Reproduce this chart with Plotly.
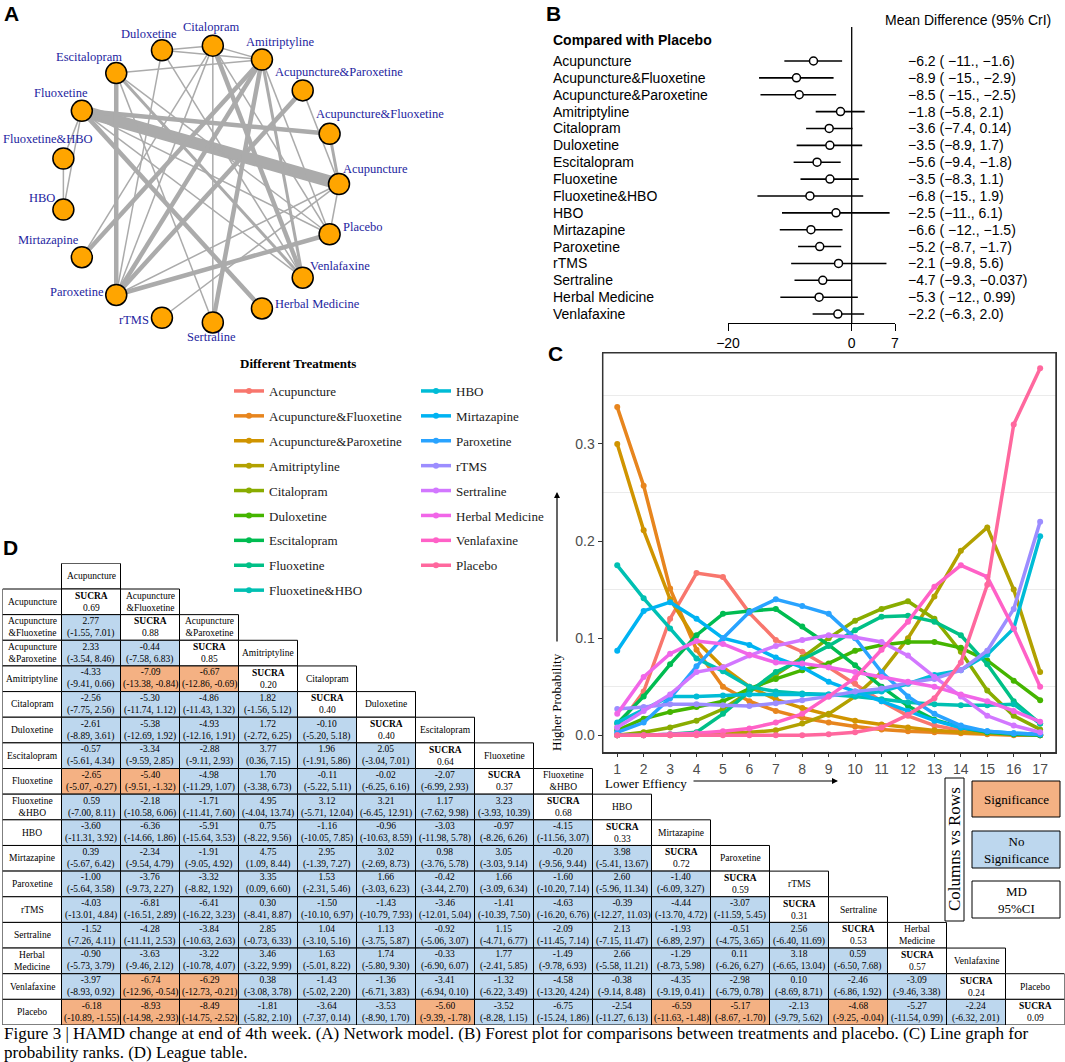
import math
import plotly.graph_objects as go

W, H = 1065, 1062
SERIF = "Liberation Serif, Times New Roman, serif"
SANS = "Liberation Sans, Arial, sans-serif"


def fx(p):
    return p / W


def fy(p):
    return 1 - p / H


# ---------------------------------------------------------------- data
TREATMENTS = ["Acupuncture", "Acupuncture&Fluoxetine", "Acupuncture&Paroxetine",
              "Amitriptyline", "Citalopram", "Duloxetine", "Escitalopram",
              "Fluoxetine", "Fluoxetine&HBO", "HBO", "Mirtazapine", "Paroxetine",
              "rTMS", "Sertraline", "Herbal Medicine", "Venlafaxine", "Placebo"]

TABLE_LABELS = ["Acupuncture", "Acupuncture<br>&Fluoxetine", "Acupuncture<br>&Paroxetine",
                "Amitriptyline", "Citalopram", "Duloxetine", "Escitalopram",
                "Fluoxetine", "Fluoxetine<br>&HBO", "HBO", "Mirtazapine", "Paroxetine",
                "rTMS", "Sertraline", "Herbal<br>Medicine", "Venlafaxine", "Placebo"]

RANKS = list(range(1, 18))

RANK_PROB = {
    "Acupuncture":            [0.008, 0.045, 0.12, 0.167, 0.163, 0.126, 0.098, 0.086, 0.07, 0.053, 0.035, 0.02, 0.01, 0.005, 0.002, 0.001, 0.0],
    "Acupuncture&Fluoxetine": [0.338, 0.257, 0.151, 0.088, 0.05, 0.035, 0.025, 0.018, 0.013, 0.009, 0.006, 0.004, 0.003, 0.002, 0.001, 0.0, 0.0],
    "Acupuncture&Paroxetine": [0.300, 0.211, 0.14, 0.097, 0.07, 0.05, 0.037, 0.028, 0.021, 0.015, 0.011, 0.008, 0.005, 0.003, 0.002, 0.001, 0.0],
    "Amitriptyline":          [0.0, 0.0, 0.0, 0.001, 0.002, 0.003, 0.005, 0.012, 0.022, 0.04, 0.065, 0.1, 0.143, 0.19, 0.214, 0.15, 0.065],
    "Citalopram":             [0.0, 0.003, 0.008, 0.015, 0.027, 0.045, 0.062, 0.08, 0.1, 0.118, 0.13, 0.138, 0.12, 0.086, 0.046, 0.02, 0.006],
    "Duloxetine":             [0.005, 0.017, 0.024, 0.029, 0.035, 0.048, 0.058, 0.067, 0.074, 0.087, 0.093, 0.096, 0.096, 0.09, 0.077, 0.056, 0.036],
    "Escitalopram":           [0.012, 0.04, 0.073, 0.103, 0.125, 0.128, 0.13, 0.112, 0.093, 0.072, 0.05, 0.03, 0.016, 0.008, 0.003, 0.001, 0.0],
    "Fluoxetine":             [0.0, 0.0, 0.001, 0.003, 0.022, 0.045, 0.065, 0.078, 0.092, 0.108, 0.122, 0.123, 0.117, 0.103, 0.073, 0.035, 0.012],
    "Fluoxetine&HBO":         [0.175, 0.141, 0.110, 0.079, 0.066, 0.05, 0.045, 0.043, 0.042, 0.04, 0.037, 0.034, 0.032, 0.031, 0.031, 0.032, 0.012],
    "HBO":                    [0.013, 0.027, 0.040, 0.040, 0.041, 0.042, 0.042, 0.042, 0.042, 0.042, 0.045, 0.053, 0.062, 0.067, 0.083, 0.11, 0.205],
    "Mirtazapine":            [0.087, 0.128, 0.137, 0.12, 0.1, 0.093, 0.08, 0.07, 0.055, 0.045, 0.035, 0.025, 0.015, 0.008, 0.004, 0.002, 0.001],
    "Paroxetine":             [0.003, 0.013, 0.038, 0.071, 0.1, 0.127, 0.14, 0.133, 0.125, 0.1, 0.065, 0.04, 0.022, 0.01, 0.004, 0.002, 0.001],
    "rTMS":                   [0.027, 0.029, 0.032, 0.032, 0.031, 0.030, 0.033, 0.036, 0.04, 0.045, 0.048, 0.054, 0.058, 0.067, 0.087, 0.13, 0.22],
    "Sertraline":             [0.008, 0.025, 0.042, 0.065, 0.07, 0.082, 0.092, 0.098, 0.103, 0.101, 0.096, 0.082, 0.06, 0.04, 0.02, 0.01, 0.003],
    "Herbal Medicine":        [0.022, 0.06, 0.084, 0.097, 0.094, 0.083, 0.075, 0.074, 0.07, 0.065, 0.06, 0.055, 0.05, 0.042, 0.035, 0.025, 0.014],
    "Venlafaxine":            [0.0, 0.0, 0.001, 0.002, 0.004, 0.007, 0.013, 0.022, 0.04, 0.059, 0.088, 0.117, 0.153, 0.175, 0.163, 0.11, 0.05],
    "Placebo":                [0.0, 0.0, 0.0, 0.0, 0.0, 0.0, 0.0, 0.0, 0.001, 0.003, 0.008, 0.021, 0.038, 0.075, 0.155, 0.32, 0.378],
}

SUCRA = [0.69, 0.88, 0.85, 0.20, 0.40, 0.40, 0.64, 0.37, 0.68, 0.33, 0.72, 0.59, 0.31, 0.53, 0.57, 0.24, 0.09]

# league table: row treatment vs column treatment, (MD, lower, upper)
LEAGUE_ROWS = [
    [],
    [(2.77, -1.55, 7.01)],
    [(2.33, -3.54, 8.46), (-0.44, -7.58, 6.83)],
    [(-4.33, -9.41, 0.66), (-7.09, -13.38, -0.84), (-6.67, -12.86, -0.69)],
    [(-2.56, -7.75, 2.56), (-5.30, -11.74, 1.12), (-4.86, -11.43, 1.32), (1.82, -1.56, 5.12)],
    [(-2.61, -8.89, 3.61), (-5.38, -12.69, 1.92), (-4.93, -12.16, 1.91), (1.72, -2.72, 6.25), (-0.10, -5.20, 5.18)],
    [(-0.57, -5.61, 4.34), (-3.34, -9.59, 2.85), (-2.88, -9.11, 2.93), (3.77, 0.36, 7.15), (1.96, -1.91, 5.86),
     (2.05, -3.04, 7.01)],
    [(-2.65, -5.07, -0.27), (-5.40, -9.51, -1.32), (-4.98, -11.29, 1.07), (1.70, -3.38, 6.73), (-0.11, -5.22, 5.11),
     (-0.02, -6.25, 6.16), (-2.07, -6.99, 2.93)],
    [(0.59, -7.00, 8.11), (-2.18, -10.58, 6.06), (-1.71, -11.41, 7.60), (4.95, -4.04, 13.74), (3.12, -5.71, 12.04),
     (3.21, -6.45, 12.91), (1.17, -7.62, 9.98), (3.23, -3.93, 10.39)],
    [(-3.60, -11.31, 3.92), (-6.36, -14.66, 1.86), (-5.91, -15.64, 3.53), (0.75, -8.22, 9.56), (-1.16, -10.05, 7.85),
     (-0.96, -10.63, 8.59), (-3.03, -11.98, 5.78), (-0.97, -8.26, 6.26), (-4.15, -11.56, 3.07)],
    [(0.39, -5.67, 6.42), (-2.34, -9.54, 4.79), (-1.91, -9.05, 4.92), (4.75, 1.09, 8.44), (2.95, -1.39, 7.27),
     (3.02, -2.69, 8.73), (0.98, -3.76, 5.78), (3.05, -3.03, 9.14), (-0.20, -9.56, 9.44), (3.98, -5.41, 13.67)],
    [(-1.00, -5.64, 3.58), (-3.76, -9.73, 2.27), (-3.32, -8.82, 1.92), (3.35, 0.09, 6.60), (1.53, -2.31, 5.46),
     (1.66, -3.03, 6.23), (-0.42, -3.44, 2.70), (1.66, -3.09, 6.34), (-1.60, -10.20, 7.14), (2.60, -5.96, 11.34),
     (-1.40, -6.09, 3.27)],
    [(-4.03, -13.01, 4.84), (-6.81, -16.51, 2.89), (-6.41, -16.22, 3.23), (0.30, -8.41, 8.87), (-1.50, -10.10, 6.97),
     (-1.43, -10.79, 7.93), (-3.46, -12.01, 5.04), (-1.41, -10.39, 7.50), (-4.63, -16.20, 6.76), (-0.39, -12.27, 11.03),
     (-4.44, -13.70, 4.72), (-3.07, -11.59, 5.45)],
    [(-1.52, -7.26, 4.11), (-4.28, -11.11, 2.53), (-3.84, -10.63, 2.63), (2.85, -0.73, 6.33), (1.04, -3.10, 5.16),
     (1.13, -3.75, 5.87), (-0.92, -5.06, 3.07), (1.15, -4.71, 6.77), (-2.09, -11.45, 7.14), (2.13, -7.15, 11.47),
     (-1.93, -6.89, 2.97), (-0.51, -4.75, 3.65), (2.56, -6.40, 11.69)],
    [(-0.90, -5.73, 3.79), (-3.63, -9.46, 2.12), (-3.22, -10.78, 4.07), (3.46, -3.22, 9.99), (1.63, -5.01, 8.22),
     (1.74, -5.80, 9.30), (-0.33, -6.90, 6.07), (1.77, -2.41, 5.85), (-1.49, -9.78, 6.93), (2.66, -5.58, 11.21),
     (-1.29, -8.73, 5.98), (0.11, -6.26, 6.27), (3.18, -6.65, 13.04), (0.59, -6.50, 7.68)],
    [(-3.97, -8.93, 0.92), (-6.74, -12.96, -0.54), (-6.29, -12.73, -0.21), (0.38, -3.08, 3.78), (-1.43, -5.02, 2.20),
     (-1.36, -6.71, 3.83), (-3.41, -6.94, 0.10), (-1.32, -6.22, 3.49), (-4.58, -13.20, 4.24), (-0.38, -9.14, 8.48),
     (-4.35, -9.19, 0.41), (-2.98, -6.79, 0.78), (0.10, -8.69, 8.71), (-2.46, -6.86, 1.92), (-3.09, -9.46, 3.38)],
    [(-6.18, -10.89, -1.55), (-8.93, -14.98, -2.93), (-8.49, -14.75, -2.52), (-1.81, -5.82, 2.10), (-3.64, -7.37, 0.14),
     (-3.53, -8.90, 1.70), (-5.60, -9.39, -1.78), (-3.52, -8.28, 1.15), (-6.75, -15.24, 1.86), (-2.54, -11.27, 6.13),
     (-6.59, -11.63, -1.48), (-5.17, -8.67, -1.70), (-2.13, -9.79, 5.62), (-4.68, -9.25, -0.04), (-5.27, -11.54, 0.99),
     (-2.24, -6.32, 2.01)],
]

SIGNIFICANT = {(3, 1), (3, 2), (7, 0), (7, 1), (15, 1), (15, 2), (16, 0), (16, 1), (16, 2),
               (16, 6), (16, 10), (16, 11), (16, 13)}

FOREST_TEXT = ["\u22126.2 ( \u221211., \u22121.6)", "\u22128.9 ( \u221215., \u22122.9)", "\u22128.5 ( \u221215., \u22122.5)",
               "\u22121.8 (\u22125.8, 2.1)", "\u22123.6 (\u22127.4, 0.14)", "\u22123.5 (\u22128.9, 1.7)",
               "\u22125.6 (\u22129.4, \u22121.8)", "\u22123.5 (\u22128.3, 1.1)", "\u22126.8 (\u221215., 1.9)",
               "\u22122.5 (\u221211., 6.1)", "\u22126.6 ( \u221212., \u22121.5)", "\u22125.2 (\u22128.7, \u22121.7)",
               "\u22122.1 (\u22129.8, 5.6)", "\u22124.7 (\u22129.3, \u22120.037)", "\u22125.3 ( \u221212., 0.99)",
               "\u22122.2 (\u22126.3, 2.0)"]
FOREST_TICKS = [-20, 0, 7]

# network edges: (treatment a, treatment b, number of direct comparisons)
EDGES = [(0, 7, 8), (1, 7, 3), (0, 1, 2), (2, 11, 3), (2, 0, 1), (0, 16, 1), (0, 11, 1), (12, 0, 1),
         (11, 16, 3), (3, 4, 1), (3, 5, 1), (3, 6, 1), (3, 10, 3), (3, 11, 3), (3, 13, 3), (3, 15, 2),
         (3, 16, 1), (4, 15, 3), (4, 16, 1), (4, 11, 1), (4, 13, 1), (4, 5, 1), (5, 11, 1), (5, 15, 1),
         (6, 11, 3), (6, 15, 2), (6, 13, 1), (6, 16, 1), (7, 8, 1), (7, 9, 1), (8, 9, 1), (7, 14, 3),
         (7, 15, 1), (7, 16, 1), (10, 4, 1)]

# ---------------------------------------------------------------- style
COLORS = ["#F8766D", "#E7851E", "#D09400", "#B2A100", "#89AC00", "#45B500", "#00BC51",
          "#00C087", "#00C0B2", "#00BCD6", "#00B3F2", "#29A3FF", "#9C8DFF", "#D277FF",
          "#F166E8", "#FF61C7", "#FF689E"]
NET_LABEL_SHIFT = [(37, -15), (50, -20), (36, -18), (19, -18), (-1, -19), (-13, -16), (-27, -16),
                   (-21, -18), (-15, -20), (-21, -12), (-33, -17), (-39, -3), (-28, 2), (-1, 15),
                   (56, -4), (37, -12), (33, -7)]
SIG_COLOR = "#F4B183"
NS_COLOR = "#BDD7EE"
FOREST_FONT = dict(family=SANS, size=14, color="black")
C_BOX = (602.7, 1056, 352.7, 752.7)   # left, right, top, bottom (px)

fig = go.Figure()
annotations = []
shapes = []


def ann(**kw):
    d = dict(showarrow=False, xanchor="center", yanchor="middle")
    d.update(kw)
    annotations.append(d)


# ---------------------------------------------------------------- panel A network
n = len(TREATMENTS)
node_x = [math.cos(2 * math.pi * i / n) for i in range(n)]
node_y = [math.sin(2 * math.pi * i / n) for i in range(n)]
for a, b, k in EDGES:
    fig.add_trace(go.Scatter(x=[node_x[a], node_x[b]], y=[node_y[a], node_y[b]], mode="lines",
                             line=dict(color="#ABABAB", width=1.5 * k), hoverinfo="skip",
                             showlegend=False, xaxis="x3", yaxis="y3"))
fig.add_trace(go.Scatter(x=node_x, y=node_y, mode="markers",
                         marker=dict(size=21, color="#FFA500", line=dict(color="black", width=1.5)),
                         showlegend=False, xaxis="x3", yaxis="y3", text=TREATMENTS, hoverinfo="text"))
for i, t in enumerate(TREATMENTS):
    dx, dy = NET_LABEL_SHIFT[i]
    ann(x=node_x[i], y=node_y[i], xref="x3", yref="y3", text=t, xshift=dx, yshift=-dy,
        font=dict(family=SERIF, size=12.5, color="#1E1EA0"))

# ---------------------------------------------------------------- panel B forest
placebo_row = LEAGUE_ROWS[16]
f_md = [v[0] for v in placebo_row]
f_lo = [v[1] for v in placebo_row]
f_hi = [v[2] for v in placebo_row]
rows = list(range(len(f_md)))
fig.add_trace(go.Scatter(x=f_md, y=rows, mode="markers",
                         marker=dict(symbol="circle", size=8, color="white", line=dict(color="black", width=1.5)),
                         error_x=dict(type="data", symmetric=False,
                                      array=[h - m for m, h in zip(f_md, f_hi)],
                                      arrayminus=[m - l for m, l in zip(f_md, f_lo)],
                                      width=0, thickness=1.6, color="black"),
                         showlegend=False, xaxis="x2", yaxis="y2"))
shapes.append(dict(type="line", xref="x2", yref="y2 domain", x0=0, x1=0, y0=0, y1=1,
                   line=dict(color="black", width=1.3), layer="below"))
for i in rows:
    ann(x=fx(551), y=i, xref="paper", yref="y2", text=TREATMENTS[i], xanchor="left", font=FOREST_FONT)
    ann(x=fx(906), y=i, xref="paper", yref="y2", text=FOREST_TEXT[i], xanchor="left", font=FOREST_FONT)
ann(x=fx(551), y=-1.25, xref="paper", yref="y2", text="<b>Compared with Placebo</b>", xanchor="left",
    font=FOREST_FONT)
ann(x=fx(968), y=fy(20), xref="paper", yref="paper", text="Mean Difference (95% CrI)", font=FOREST_FONT)

# ---------------------------------------------------------------- panel C rank probabilities
for i, t in enumerate(TREATMENTS):
    fig.add_trace(go.Scatter(x=RANKS, y=RANK_PROB[t], mode="lines+markers", name=t,
                             line=dict(color=COLORS[i], width=3.5), marker=dict(size=6, color=COLORS[i]),
                             legend="legend" if i < 9 else "legend2", legendgroup=t,
                             xaxis="x", yaxis="y"))
# panel frame drawn as four edges
for (x0, x1, y0, y1) in [(C_BOX[0], C_BOX[1], C_BOX[2], C_BOX[2]), (C_BOX[0], C_BOX[1], C_BOX[3], C_BOX[3]),
                         (C_BOX[0], C_BOX[0], C_BOX[2], C_BOX[3]), (C_BOX[1], C_BOX[1], C_BOX[2], C_BOX[3])]:
    shapes.append(dict(type="line", xref="paper", yref="paper", x0=fx(x0), x1=fx(x1), y0=fy(y0), y1=fy(y1),
                       line=dict(color="#333333", width=1.5), layer="above"))

ann(x=fx(557), y=fy(492), ax=0, ay=151, xref="paper", yref="paper", text="", showarrow=True,
    arrowhead=2, arrowsize=1, arrowwidth=1.2, arrowcolor="black")
ann(x=fx(556), y=fy(702), xref="paper", yref="paper", text="Higher Probability", textangle=-90,
    font=dict(family=SERIF, size=13, color="black"))
ann(x=fx(838), y=fy(781), ax=-146, ay=0, xref="paper", yref="paper", text="", showarrow=True,
    arrowhead=2, arrowsize=1, arrowwidth=1.2, arrowcolor="black")
ann(x=fx(603), y=fy(783), xref="paper", yref="paper", text="Lower Effiency", xanchor="left",
    font=dict(family=SERIF, size=13, color="black"))
ann(x=fx(238), y=fy(363), xref="paper", yref="paper", text="<b>Different Treatments</b>", xanchor="left",
    font=dict(family=SERIF, size=13, color="black"))

# ---------------------------------------------------------------- panel D league table
def cell(col, row, text, fill):
    shapes.append(dict(type="rect", xref="x4", yref="y4", x0=col, x1=col + 1, y0=row, y1=row + 1,
                       fillcolor=fill, line=dict(color="black", width=1), layer="below"))
    ann(x=col + 0.5, y=row + 0.5, xref="x4", yref="y4", text=text,
        font=dict(family=SERIF, size=9.5, color="black"))


cell(1, -1, TABLE_LABELS[0], "white")
for r in range(n):
    cell(0, r, TABLE_LABELS[r], "white")
    for j, (md, lo, hi) in enumerate(LEAGUE_ROWS[r]):
        fill = SIG_COLOR if (r, j) in SIGNIFICANT else NS_COLOR
        cell(j + 1, r, f"{md:.2f}<br>({lo:.2f}, {hi:.2f})", fill)
    cell(r + 1, r, f"<b>SUCRA</b><br>{SUCRA[r]:.2f}", "white")
    if r + 1 < n:
        cell(r + 2, r, TABLE_LABELS[r + 1], "white")

# key boxes
shapes.append(dict(type="rect", xref="paper", yref="paper", x0=fx(945), x1=fx(964), y0=fy(921), y1=fy(778),
                   fillcolor="white", line=dict(color="black", width=1)))
ann(x=fx(954.5), y=fy(849.5), xref="paper", yref="paper", text="Columns vs Rows", textangle=-90,
    font=dict(family=SERIF, size=17, color="black"))
for (y0, y1, fill, txt) in [(781, 817, SIG_COLOR, "Significance"), (831, 868, NS_COLOR, "No<br>Significance"),
                            (881, 918, "white", "MD<br>95%CI")]:
    shapes.append(dict(type="rect", xref="paper", yref="paper", x0=fx(972), x1=fx(1060), y0=fy(y1), y1=fy(y0),
                       fillcolor=fill, line=dict(color="black", width=1)))
    ann(x=fx(1016), y=fy((y0 + y1) / 2), xref="paper", yref="paper", text=txt,
        font=dict(family=SERIF, size=13, color="black"))

# panel letters and caption
for letter, x, y in [("A", 11, 13), ("B", 553, 13), ("C", 555, 354), ("D", 10, 548)]:
    ann(x=fx(x), y=fy(y), xref="paper", yref="paper", text=f"<b>{letter}</b>",
        font=dict(family=SANS, size=21, color="black"))
ann(x=fx(2), y=fy(1033.5), xref="paper", yref="paper", xanchor="left",
    font=dict(family=SERIF, size=17, color="black"),
    text="Figure 3 | HAMD change at end of 4th week. (A) Network model. (B) Forest plot for "
         "comparisons between treatments and placebo. (C) Line graph for")
ann(x=fx(2), y=fy(1052.5), xref="paper", yref="paper", xanchor="left",
    font=dict(family=SERIF, size=17, color="black"), text="probability ranks. (D) League table.")

hidden = dict(visible=False, showgrid=False, zeroline=False)
fig.update_layout(
    template="none",
    width=W, height=H, autosize=False, margin=dict(l=0, r=0, t=0, b=0, pad=0, autoexpand=False),
    paper_bgcolor="white", plot_bgcolor="rgba(0,0,0,0)",
    xaxis=dict(domain=[fx(C_BOX[0]), fx(C_BOX[1])], range=[0.45, 17.6], tickvals=RANKS, anchor="y",
               showgrid=False, zeroline=False, showline=True, mirror=True, linecolor="#333333", linewidth=1.2,
               ticks="outside", ticklen=3, tickcolor="#333333", tickwidth=1, automargin=False,
               layer="above traces", tickfont=dict(family=SANS, size=14, color="#4D4D4D")),
    yaxis=dict(domain=[fy(C_BOX[3]), fy(C_BOX[2])], range=[-0.018, 0.394], tickvals=[0, 0.1, 0.2, 0.3],
               ticktext=["0.0", "0.1", "0.2", "0.3"], anchor="x", automargin=False,
               showgrid=False, zeroline=False, showline=True, mirror=True, linecolor="#333333", linewidth=1.2,
               ticks="outside", ticklen=4, tickcolor="#333333", tickwidth=1, layer="above traces",
               tickfont=dict(family=SANS, size=14, color="#4D4D4D"),
               minor=dict(tickvals=[0.05, 0.15, 0.25, 0.35], showgrid=True, gridcolor="#EBEBEB", gridwidth=1,
                          ticks="")),
    xaxis2=dict(domain=[fx(728), fx(895)], range=[-20, 7], tickvals=FOREST_TICKS,
                ticktext=["\u221220", "0", "7"], anchor="y2", automargin=False,
                showgrid=False, zeroline=False, showline=True, linecolor="black", linewidth=1.2,
                ticks="outside", ticklen=7, tickcolor="black", tickwidth=1.2,
                tickfont=dict(family=SANS, size=14, color="black")),
    yaxis2=dict(domain=[fy(323), fy(27)], range=[15.53, -2.015], anchor="x2", **hidden),
    xaxis3=dict(domain=[0, fx(400)], range=[-1.439, 1.439], anchor="y3", **hidden),
    yaxis3=dict(domain=[fy(340), 1], range=[-1.122, 1.324], anchor="x3", **hidden),
    xaxis4=dict(domain=[fx(2.5), fx(1064.5)], range=[0, 18], anchor="y4", **hidden),
    yaxis4=dict(domain=[fy(1025), fy(563.35)], range=[17, -1], anchor="x4", **hidden),
    legend=dict(x=fx(229), y=fy(376), xanchor="left", yanchor="top", bgcolor="rgba(0,0,0,0)",
                font=dict(family=SERIF, size=13, color="#1A1A1A"), tracegroupgap=5, itemwidth=30),
    legend2=dict(x=fx(416), y=fy(376), xanchor="left", yanchor="top", bgcolor="rgba(0,0,0,0)",
                 font=dict(family=SERIF, size=13, color="#1A1A1A"), tracegroupgap=5, itemwidth=30),
    annotations=annotations,
    shapes=shapes,
)

fig.write_html("out.html", config={"displayModeBar": False},
               post_script="document.body.style.margin='0';document.body.style.overflow='hidden';")
